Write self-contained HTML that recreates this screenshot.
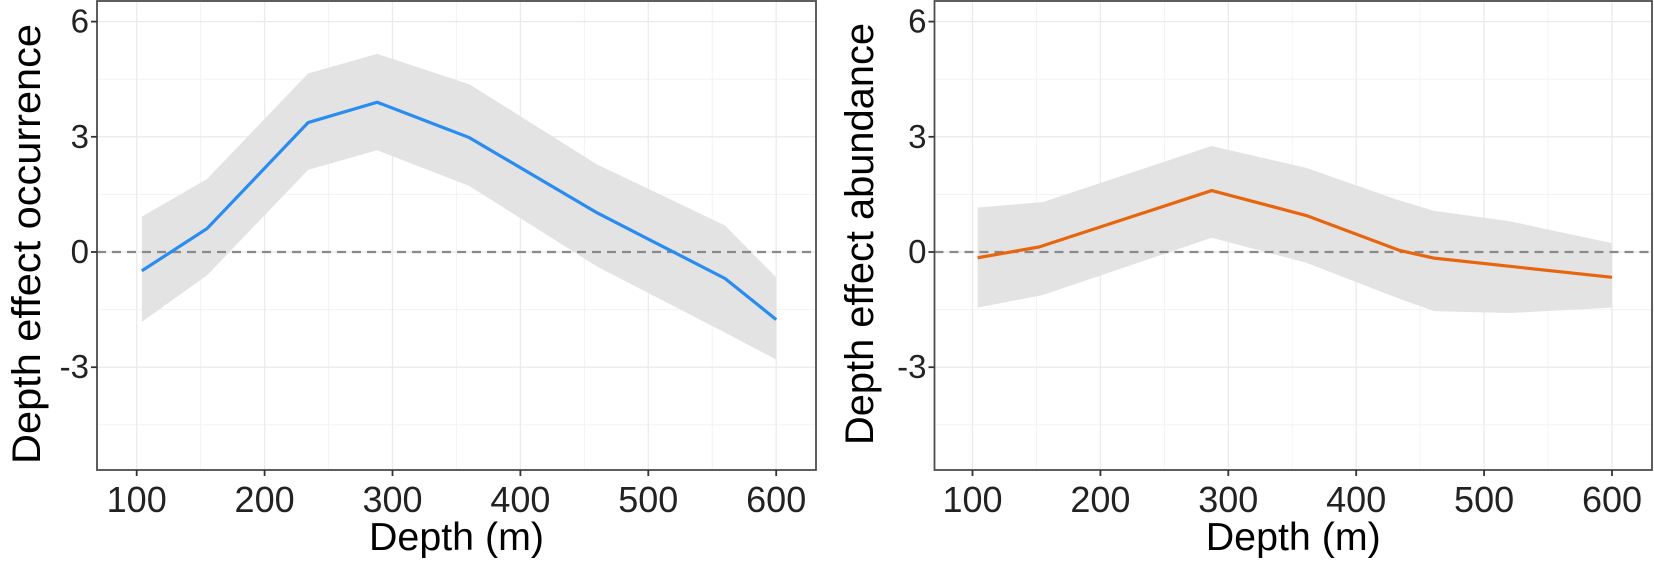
<!DOCTYPE html>
<html><head><meta charset="utf-8"><style>
html,body{margin:0;padding:0;background:#fff;}
svg{display:block;font-family:"Liberation Sans",sans-serif;}
</style></head><body>
<svg id="chart" width="1654" height="561" viewBox="0 0 1654 561" xmlns="http://www.w3.org/2000/svg"></svg>
<script>
// ---- data ----
const occDepth = [104, 155, 234, 288, 360, 460, 560, 600];
const occFit   = [-0.49, 0.61, 3.37, 3.9, 2.98, 1.02, -0.69, -1.76];
const occUpper = [0.92, 1.90, 4.65, 5.16, 4.37, 2.28, 0.69, -0.66];
const occLower = [-1.82, -0.61, 2.14, 2.65, 1.72, -0.38, -2.10, -2.80];

const abDepth  = [104, 152, 287, 361, 434, 461, 600];
const abFit    = [-0.15, 0.13, 1.6, 0.95, 0.04, -0.16, -0.66];
const abBandDepth = [104, 155, 287, 361, 434, 461, 520, 600];
const abUpper  = [1.16, 1.30, 2.76, 2.19, 1.34, 1.07, 0.80, 0.23];
const abLower  = [-1.45, -1.12, 0.37, -0.28, -1.22, -1.54, -1.59, -1.45];

const xTicks = [100, 200, 300, 400, 500, 600];
const xMinor = [150, 250, 350, 450, 550];
const yTicks = [-3, 0, 3, 6];
const yMinor = [-4.5, -1.5, 1.5, 4.5];

const NS = "http://www.w3.org/2000/svg";
const svg = document.getElementById("chart");
function el(tag, attrs, parent){
  const e = document.createElementNS(NS, tag);
  for (const k in attrs) e.setAttribute(k, attrs[k]);
  (parent || svg).appendChild(e);
  return e;
}

function panel(cfg){
  const g = el("g", {});
  
  
  const x = v => cfg.x100 + (v - 100) * 1.279;
  const y = v => 252 - v * 38.4;
  const L = cfg.left, R = cfg.right, T = 1, B = 470;
  xMinor.forEach(v => {
    const ln = el("line", {x1:x(v), x2:x(v), y1:T, y2:B, stroke:"#f3f3f3", "stroke-width":1}, g);
    
    
  });
  yMinor.forEach(v => {
    const ln = el("line", {x1:L, x2:R, y1:y(v), y2:y(v), stroke:"#f3f3f3", "stroke-width":1}, g);
    
    
  });
  xTicks.forEach(v => {
    const ln = el("line", {x1:x(v), x2:x(v), y1:T, y2:B, stroke:"#ebebeb", "stroke-width":1.3}, g);
    
    
  });
  yTicks.forEach(v => {
    const ln = el("line", {x1:L, x2:R, y1:y(v), y2:y(v), stroke:"#ebebeb", "stroke-width":1.3}, g);
    
    
  });
  let pts = cfg.bandDepth.map((d,i) => x(d)+","+y(cfg.upper[i]));
  for (let i = cfg.bandDepth.length-1; i >= 0; i--) pts.push(x(cfg.bandDepth[i])+","+y(cfg.lower[i]));
  const band = el("polygon", {points: pts.join(" "), fill:"#e3e3e3"}, g);
  
  
  const z = el("line", {x1:L, x2:R, y1:y(0), y2:y(0), stroke:"#8a8a8a", "stroke-width":2.2, "stroke-dasharray":"9,6"}, g);
  
  
  const lp = cfg.depth.map((d,i) => x(d)+","+y(cfg.fit[i])).join(" ");
  const line = el("polyline", {points: lp, fill:"none", stroke:cfg.color, "stroke-width":3.2, "stroke-linejoin":"round"}, g);
  
  
  const fr = el("rect", {x:L, y:T, width:R-L, height:B-T, fill:"none", stroke:"#4d4d4d", "stroke-width":1.8}, g);
  
  
  xTicks.forEach(v => {
    const t = el("line", {x1:x(v), x2:x(v), y1:B, y2:B+6, stroke:"#333", "stroke-width":1.8}, g);
    
    
    const lb = el("text", {x:x(v), y:512, "text-anchor":"middle", "font-size":36, fill:"#222"}, g);
    lb.textContent = v;
    
    
  });
  yTicks.forEach(v => {
    const t = el("line", {x1:L-6, x2:L, y1:y(v), y2:y(v), stroke:"#333", "stroke-width":1.8}, g);
    
    
    const lb = el("text", {x:L-8, y:y(v)+11, "text-anchor":"end", "font-size":33, fill:"#222"}, g);
    lb.textContent = v;
    
    
  });
  const xt = el("text", {x:(L+R)/2, y:550, "text-anchor":"middle", "font-size":39, fill:"#000",
    textLength:175, lengthAdjust:"spacingAndGlyphs"}, g);
  xt.textContent = "Depth (m)";
  
  
  const yt = el("text", {x:0, y:0, "text-anchor":"middle", "font-size":40, fill:"#000",
    textLength:cfg.ylen, lengthAdjust:"spacingAndGlyphs",
    transform:"translate("+cfg.ytx+","+cfg.yty+") rotate(-90)"}, g);
  yt.textContent = cfg.ytitle;
  
  
}

panel({name:"occurrence-panel", left:97, right:816, x100:136.7, color:"#2a8cf0",
  depth:occDepth, fit:occFit, bandDepth:occDepth, upper:occUpper, lower:occLower,
  ytitle:"Depth effect occurrence", ytx:40, yty:244, ylen:440});
panel({name:"abundance-panel", left:934.5, right:1652, x100:972.5, color:"#e8650f",
  depth:abDepth, fit:abFit, bandDepth:abBandDepth, upper:abUpper, lower:abLower,
  ytitle:"Depth effect abundance", ytx:873, yty:234, ylen:422});
</script>
</body></html>
